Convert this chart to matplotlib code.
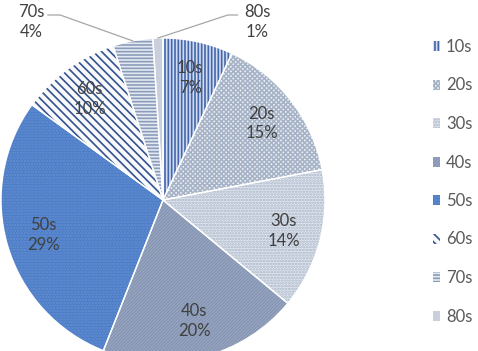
import numpy as np
import matplotlib
matplotlib.use("Agg")
import matplotlib.pyplot as plt

# ─── DATA ─────────────────────────────────────────────────────────
decades = ["10s", "20s", "30s", "40s", "50s", "60s", "70s", "80s"]
shares  = [7, 15, 14, 20, 29, 10, 4, 1]   # percent

# ─── STYLES PER SLICE ─────────────────────────────────────────────
faces   = ["#d3ddf1", "#eef1f6", "#e1e6ee", "#a0adc5", "#4a7bc6", "#f8f9fb", "#e4e9f1", "#c9cfdb"]
hatches = ["|||||", "xxxxxxx", "......", "//////////", "......", "\\\\\\\\", "-----", ""]
hcolors = ["#4467aa", "#a7b3c6", "#a8b5c8", "#8696b4", "#6690d2", "#34528f", "#8a9cba", "#c9cfdb"]

plt.rcParams["font.family"] = ["Lato", "DejaVu Sans"]
plt.rcParams["hatch.linewidth"] = 1.2
text_col = "#404040"

fig = plt.figure(figsize=(4.78, 3.51), dpi=100)
W, H = 478, 351
cx, cy, r = 163, 200, 162
ax = fig.add_axes([(cx - r) / W, (H - cy - r) / H, 2 * r / W, 2 * r / H])

wedges, _ = ax.pie(shares, startangle=90, counterclock=False,
                   radius=1.0, wedgeprops=dict(linewidth=0))
for w, fc, hc, ht in zip(wedges, faces, hcolors, hatches):
    w.set_facecolor(fc)
    w.set_edgecolor(hc)
    w.set_hatch(ht)

# white separators between slices
ax.pie(shares, startangle=90, counterclock=False, radius=1.0,
       wedgeprops=dict(facecolor="none", edgecolor="white", linewidth=1.0))

ax.set_xlim(-1, 1)
ax.set_ylim(-1, 1)
ax.set_aspect("equal")
ax.axis("off")

# ─── INSIDE LABELS ────────────────────────────────────────────────
for w, name, val in zip(wedges[:6], decades[:6], shares[:6]):
    ang = np.deg2rad((w.theta1 + w.theta2) / 2)
    d = 0.77
    ax.text(d * np.cos(ang), d * np.sin(ang), f"{name}\n{val}%",
            ha="center", va="center", fontsize=12, color=text_col,
            linespacing=1.3)

# ─── OUTSIDE LABELS WITH LEADERS ──────────────────────────────────
w70, w80 = wedges[6], wedges[7]
a70 = np.deg2rad((w70.theta1 + w70.theta2) / 2)
a80 = np.deg2rad((w80.theta1 + w80.theta2) / 2)

ax.text(-0.815, 1.10, f"{decades[6]}\n{shares[6]}%", ha="center", va="center",
        fontsize=12, color=text_col, linespacing=1.3, clip_on=False)
ax.plot([-0.71, -0.635, np.cos(a70)], [1.142, 1.142, np.sin(a70)],
        color="#a6a6a6", lw=0.9, clip_on=False)

ax.text(0.58, 1.10, f"{decades[7]}\n{shares[7]}%", ha="center", va="center",
        fontsize=12, color=text_col, linespacing=1.3, clip_on=False)
ax.plot([np.cos(a80), 0.40, 0.46], [np.sin(a80), 1.142, 1.142],
        color="#a6a6a6", lw=0.9, clip_on=False)

# ─── LEGEND ───────────────────────────────────────────────────────
fig.legend(wedges, decades, loc="upper left", bbox_to_anchor=(418 / W, 1 - 24 / H),
           frameon=False, fontsize=12, labelcolor="#595959",
           handlelength=0.42, handleheight=0.55, handletextpad=0.36,
           labelspacing=1.35, borderpad=0.4)

fig.savefig("out.png", dpi=100)
